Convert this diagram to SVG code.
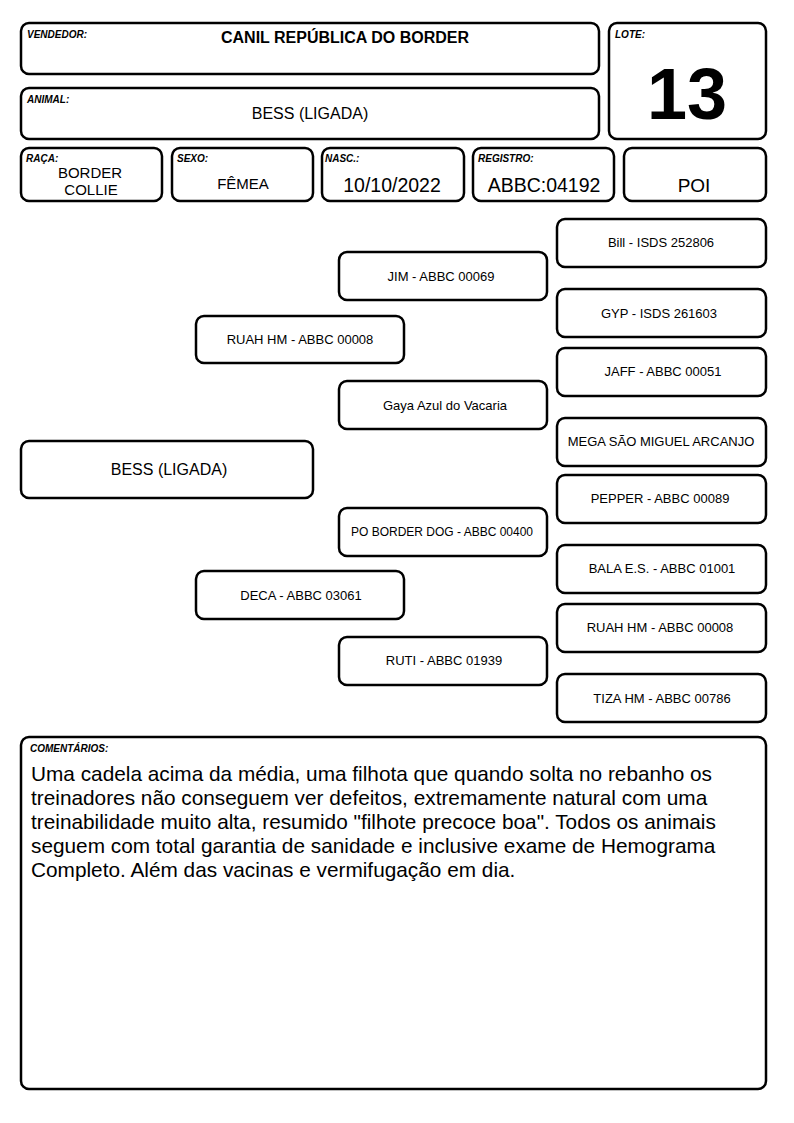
<svg xmlns="http://www.w3.org/2000/svg" width="794" height="1123" viewBox="0 0 794 1123">
<style>
.b{fill:#fff;stroke:#000;stroke-width:2.5}
.lb{font-family:"Liberation Sans",Arial,sans-serif;font-size:10px;font-weight:bold;font-style:italic;fill:#000}
.v{font-family:"Liberation Sans",Arial,sans-serif;font-size:16px;fill:#000;text-anchor:middle}
.p{font-family:"Liberation Sans",Arial,sans-serif;font-size:13px;fill:#000;text-anchor:middle}
.c{font-family:"Liberation Sans",Arial,sans-serif;font-size:20.8px;fill:#000}
</style>
<rect width="794" height="1123" fill="#fff"/>
<g id="vendedor"><rect class="b" x="21" y="23" width="578" height="51" rx="8"/><text class="lb" x="27" y="38">VENDEDOR:</text><text class="v" x="345" y="43" style="font-weight:bold">CANIL REPÚBLICA DO BORDER</text></g>
<g id="lote"><rect class="b" x="609" y="23" width="157" height="116" rx="8"/><text class="lb" x="615" y="38">LOTE:</text><text x="687" y="119" style="font-family:'Liberation Sans',Arial,sans-serif;font-size:72px;font-weight:bold;text-anchor:middle">13</text></g>
<g id="animal"><rect class="b" x="21" y="88" width="578" height="51" rx="8"/><text class="lb" x="27" y="103">ANIMAL:</text><text class="v" x="310" y="119">BESS (LIGADA)</text></g>
<g id="raca"><rect class="b" x="21" y="148" width="141" height="53" rx="8"/><text class="lb" x="26" y="162">RAÇA:</text><text class="v" x="90" y="178" style="font-size:15px">BORDER</text><text class="v" x="91" y="195" style="font-size:15px">COLLIE</text></g>
<g id="sexo"><rect class="b" x="172" y="148" width="141" height="53" rx="8"/><text class="lb" x="177" y="162">SEXO:</text><text class="v" x="243" y="189" style="font-size:15px">FÊMEA</text></g>
<g id="nasc"><rect class="b" x="322" y="148" width="142" height="53" rx="8"/><text class="lb" x="325" y="162">NASC.:</text><text class="v" x="392" y="192" style="font-size:19.5px">10/10/2022</text></g>
<g id="registro"><rect class="b" x="473" y="148" width="141" height="53" rx="8"/><text class="lb" x="478" y="162">REGISTRO:</text><text class="v" x="544" y="192" style="font-size:19.5px">ABBC:04192</text></g>
<g id="poi"><rect class="b" x="624" y="148" width="142" height="53" rx="8"/><text class="v" x="694" y="192" style="font-size:19px">POI</text></g>
<g id="connectors"></g>
<g id="n-bess"><rect class="b" x="21" y="441" width="292" height="57" rx="8"/><text class="v" x="169" y="475">BESS (LIGADA)</text></g>
<g id="n-ruah"><rect class="b" x="196" y="316" width="208" height="47" rx="8"/><text class="p" x="300" y="344">RUAH HM - ABBC 00008</text></g>
<g id="n-deca"><rect class="b" x="196" y="571" width="208" height="48" rx="8"/><text class="p" x="301" y="600">DECA - ABBC 03061</text></g>
<g id="n-jim"><rect class="b" x="339" y="252" width="208" height="48" rx="8"/><text class="p" x="441" y="281">JIM - ABBC 00069</text></g>
<g id="n-gaya"><rect class="b" x="339" y="381" width="208" height="48" rx="8"/><text class="p" x="445" y="410">Gaya Azul do Vacaria</text></g>
<g id="n-po"><rect class="b" x="339" y="508" width="208" height="48" rx="8"/><text class="p" x="442" y="536" style="font-size:12px">PO BORDER DOG - ABBC 00400</text></g>
<g id="n-ruti"><rect class="b" x="339" y="637" width="208" height="48" rx="8"/><text class="p" x="444" y="665">RUTI - ABBC 01939</text></g>
<g id="n-bill"><rect class="b" x="557" y="219" width="209" height="48" rx="8"/><text class="p" x="661" y="247">Bill - ISDS 252806</text></g>
<g id="n-gyp"><rect class="b" x="557" y="289" width="209" height="48" rx="8"/><text class="p" x="659" y="318">GYP - ISDS 261603</text></g>
<g id="n-jaff"><rect class="b" x="557" y="348" width="209" height="48" rx="8"/><text class="p" x="663" y="376">JAFF - ABBC 00051</text></g>
<g id="n-mega"><rect class="b" x="557" y="418" width="209" height="48" rx="8"/><text class="p" x="661" y="446">MEGA SÃO MIGUEL ARCANJO</text></g>
<g id="n-pepper"><rect class="b" x="557" y="475" width="209" height="48" rx="8"/><text class="p" x="660" y="503">PEPPER - ABBC 00089</text></g>
<g id="n-bala"><rect class="b" x="557" y="545" width="209" height="48" rx="8"/><text class="p" x="662" y="573">BALA E.S. - ABBC 01001</text></g>
<g id="n-ruah2"><rect class="b" x="557" y="604" width="209" height="48" rx="8"/><text class="p" x="660" y="632">RUAH HM - ABBC 00008</text></g>
<g id="n-tiza"><rect class="b" x="557" y="674" width="209" height="48" rx="8"/><text class="p" x="662" y="703">TIZA HM - ABBC 00786</text></g>
<g id="comentarios"><rect class="b" x="21" y="737" width="745" height="352" rx="8"/><text class="lb" x="30" y="752">COMENTÁRIOS:</text>
<text class="c" x="31" y="781">Uma cadela acima da média, uma filhota que quando solta no rebanho os</text>
<text class="c" x="31" y="805">treinadores não conseguem ver defeitos, extremamente natural com uma</text>
<text class="c" x="31" y="829">treinabilidade muito alta, resumido "filhote precoce boa". Todos os animais</text>
<text class="c" x="31" y="853">seguem com total garantia de sanidade e inclusive exame de Hemograma</text>
<text class="c" x="31" y="877">Completo. Além das vacinas e vermifugação em dia.</text>
</g>
</svg>
